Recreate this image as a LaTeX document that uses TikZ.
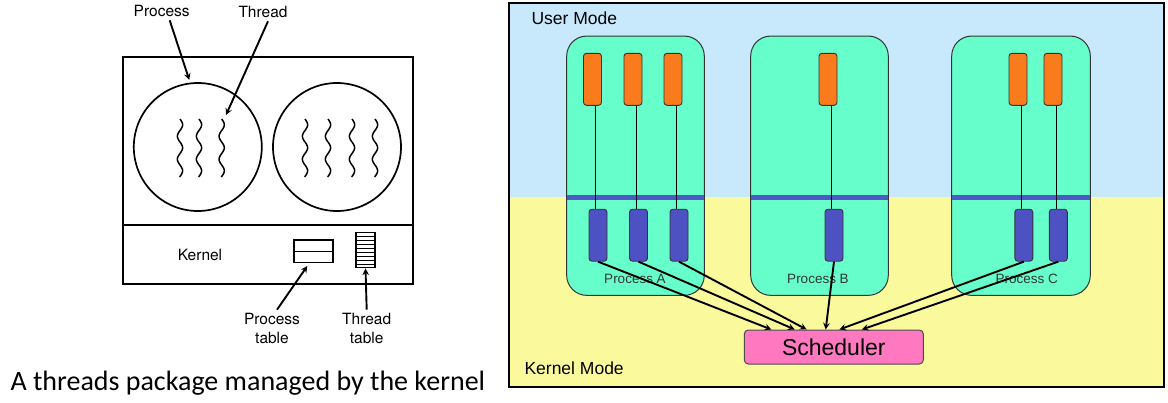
\documentclass[tikz,border=0pt]{standalone}
\usepackage{fontspec}
\setmainfont{Liberation Sans}
\newfontfamily\helv{TeX Gyre Heros}
\newfontfamily\capfont{Carlito}
\usetikzlibrary{calc}
\definecolor{usermode}{HTML}{C8E8FB}
\definecolor{kernmode}{HTML}{FAFA9C}
\definecolor{procgreen}{HTML}{66FFCC}
\definecolor{uthread}{HTML}{FA7B1C}
\definecolor{kthread}{HTML}{4E51C1}
\definecolor{kbar}{HTML}{5058C8}
\definecolor{schedpink}{HTML}{FF78C0}

\begin{document}
\begin{tikzpicture}[x=1pt,y=-1pt,
	fig/.style={font=\helv\fontsize{15.5}{19}\selectfont},
	procbox/.style={draw=black!80,fill=procgreen,rounded corners=20pt,line width=1pt},
	ubox/.style={draw=black!80,fill=uthread,rounded corners=3pt,minimum width=18pt,minimum height=52pt,inner sep=0pt,line width=0.9pt},
	kbox/.style={draw=black!80,fill=kthread,rounded corners=3pt,minimum width=18pt,minimum height=52pt,inner sep=0pt,line width=0.9pt},
	link/.style={line width=0.9pt},
	toSched/.style={->,>=stealth,line width=1.9pt}]
	\useasboundingbox (0,0) rectangle (1168,402);

	%KERNEL THREADS (LEFT)
	\draw[line width=1.9pt] (122.7,57.3) rectangle (413,284);
	\draw[line width=1.9pt] (122.7,225)--(413,225);
	\node[draw,circle,line width=1.7pt,minimum size=128pt] (p1) at (197.8,147) {};
	\node[draw,circle,line width=1.7pt,minimum size=128pt] (p2) at (337,147) {};
	\foreach \x in {180,199,221.7,305,328,352,375}
		\draw[line width=1.5pt] plot[variable=\t,domain=0:58,samples=60,smooth] ({\x+2.6*sin(\t/23*360)},{119+\t});
	%
	\node[draw,line width=1.5pt,minimum width=39pt,minimum height=22.7pt] (ptab) at (313.7,251.3) {};
	\draw[line width=1.5pt] (ptab.west)--(ptab.east);
	\node[draw,line width=1.5pt,minimum width=19pt,minimum height=35pt] (ttab) at (365.5,250.2) {};
	\foreach \i in {1,...,8}
		\draw[line width=1pt] ($(ttab.north west)!\i/9!(ttab.south west)$)--($(ttab.north east)!\i/9!(ttab.south east)$);

	%LABELS (LEFT)
	\node[fig] (lproc) at (161.7,11) {Process};
	\node[fig] (lthr) at (263,12) {Thread};
	\node[fig] (lkern) at (200,255) {Kernel};
	\node[fig,align=center] (lptab) at (272,328.5) {Process\\table};
	\node[fig,align=center] (lttab) at (366.7,328.5) {Thread\\table};
	\coordinate (ptgt) at (189.3,80);
	\coordinate (ttgt) at (226,115);
	\coordinate (tabtgt) at (307.3,266);
	\draw[->,>=stealth,line width=1.9pt] ([xshift=8]lproc.south)--(ptgt);
	\draw[->,>=stealth,line width=1.9pt] ([xshift=5]lthr.south)--(ttgt);
	\draw[->,>=stealth,line width=1.9pt] ([xshift=5]lptab.north)--(tabtgt);
	\draw[->,>=stealth,line width=1.9pt] (lttab.north)--(ttab.south);
	\node[anchor=west] (cap) at (7,383) {\capfont\fontsize{28}{32}\selectfont A threads package managed by the kernel};

	%MODES (RIGHT)
	\fill[usermode] (509,3) rectangle (1164,197);
	\fill[kernmode] (509,197) rectangle (1164,387);
	\draw[line width=1.8pt] (509,3) rectangle (1164,387);
	\node[anchor=west,font=\fontsize{17.5}{20}\selectfont] (umode) at (528,18) {User Mode};
	\node[anchor=west,font=\fontsize{17.5}{20}\selectfont] (kmode) at (521,368) {Kernel Mode};

	%PROCESSES
	\node[procbox,minimum width=137.6pt,minimum height=259.3pt] (pa) at (635.5,165.7) {};
	\node[procbox,minimum width=137.6pt,minimum height=259.3pt] (pb) at (819.5,165.7) {};
	\node[procbox,minimum width=138.6pt,minimum height=259.3pt] (pc) at (1021,165.7) {};
	\foreach \l/\r in {566.7/704.3,750.7/888.3,951.7/1090.3}
		\fill[kbar] (\l,195.2) rectangle (\r,199.6);
	\node[font=\fontsize{13.5}{15}\selectfont,text=black!80] (la) at (635,278.5) {Process A};
	\node[font=\fontsize{13.5}{15}\selectfont,text=black!80] (lb) at (818,278.5) {Process B};
	\node[font=\fontsize{13.5}{15}\selectfont,text=black!80] (lc) at (1026.7,278.5) {Process C};

	%THREADS
	\foreach \n/\u/\k in {a1/592.5/598,a2/633/638.5,a3/673/679,b1/828/834,c1/1018/1023.8,c2/1053/1058.3}{
		\node[ubox] (u\n) at (\u,79.3) {};
		\node[kbox] (k\n) at (\k,235.2) {};
		\draw[link] ([xshift=3]u\n.south)--([xshift=3]u\n.south |- k\n.north);
	}

	%SCHEDULER
	\node[fill=schedpink,draw=black!70,line width=1pt,rounded corners=4pt,minimum width=179pt,minimum height=34pt,inner sep=0pt,font=\fontsize{23}{26}\selectfont] (sch) at (833.8,347) {Scheduler};
	\foreach \n/\f in {a1/0.153,a2/0.283,a3/0.349,b1/0.455,c1/0.531,c2/0.656}{
		\coordinate (s\n) at ($(sch.north west)!\f!(sch.north east)$);
		\draw[toSched] (k\n.south)--(s\n);
	}
\end{tikzpicture}
\end{document}
